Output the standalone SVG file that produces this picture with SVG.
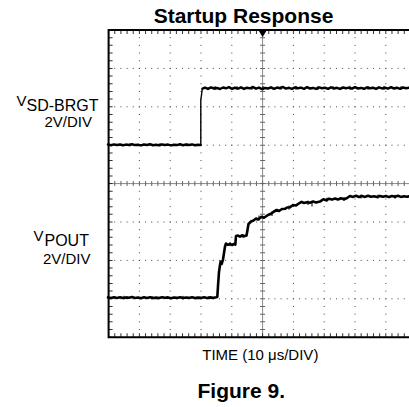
<svg xmlns="http://www.w3.org/2000/svg" width="409" height="407" viewBox="0 0 409 407">
  <style>
    .t { font-family: "Liberation Sans", Arial, sans-serif; fill: #000; }
    .b { font-weight: bold; }
    .dotH { stroke: #444; stroke-width: 1; stroke-dasharray: 1 5.16; fill: none; }
    .dotV { stroke: #444; stroke-width: 1; stroke-dasharray: 1 6.68; fill: none; }
    .axis { stroke: #888; stroke-width: 1; fill: none; }
    .tickH { stroke: #666; stroke-width: 5; stroke-dasharray: 1 5.16; fill: none; }
    .tickV { stroke: #666; stroke-width: 5; stroke-dasharray: 1 6.68; fill: none; }
    .edgeTickH { stroke: #333; stroke-width: 4; stroke-dasharray: 1 5.16; fill: none; }
    .edgeTickV { stroke: #333; stroke-width: 4; stroke-dasharray: 1 6.68; fill: none; }
    .border { stroke: #000; stroke-width: 2; fill: none; }
    .trace { stroke: #000; fill: none; stroke-linejoin: round; stroke-linecap: round; }
    .noise { stroke: #000; stroke-width: 1; fill: none; }
  </style>

  <!-- title -->
  <text class="t b" x="243.5" y="23" font-size="21" text-anchor="middle">Startup Response</text>

  <!-- graticule -->
  <g id="graticule">
    <!-- dotted horizontal division lines -->
    <g class="dotH">
      <line x1="108.1" y1="68.4" x2="409" y2="68.4"/>
      <line x1="108.1" y1="106.8" x2="409" y2="106.8"/>
      <line x1="108.1" y1="145.2" x2="409" y2="145.2"/>
      <line x1="108.1" y1="222" x2="409" y2="222"/>
      <line x1="108.1" y1="260.4" x2="409" y2="260.4"/>
      <line x1="108.1" y1="298.8" x2="409" y2="298.8"/>
    </g>
    <!-- dotted vertical division lines -->
    <g class="dotV">
      <line x1="139.4" y1="29.5" x2="139.4" y2="337"/>
      <line x1="170.2" y1="29.5" x2="170.2" y2="337"/>
      <line x1="201" y1="29.5" x2="201" y2="337"/>
      <line x1="231.8" y1="29.5" x2="231.8" y2="337"/>
      <line x1="293.4" y1="29.5" x2="293.4" y2="337"/>
      <line x1="324.2" y1="29.5" x2="324.2" y2="337"/>
      <line x1="355" y1="29.5" x2="355" y2="337"/>
      <line x1="385.8" y1="29.5" x2="385.8" y2="337"/>
    </g>
    <!-- centre axes with minor ticks -->
    <line class="axis" x1="108.6" y1="183.6" x2="409" y2="183.6"/>
    <line class="axis" x1="262.6" y1="30" x2="262.6" y2="337.2"/>
    <line class="tickH" x1="108.1" y1="183.6" x2="409" y2="183.6"/>
    <line class="tickV" x1="262.6" y1="29.5" x2="262.6" y2="337.2"/>
    <!-- edge ticks -->
    <line class="edgeTickH" x1="108.1" y1="32" x2="409" y2="32"/>
    <line class="edgeTickH" x1="108.1" y1="335.2" x2="409" y2="335.2"/>
    <line class="edgeTickV" x1="110.6" y1="29.5" x2="110.6" y2="337"/>
    <!-- frame -->
    <polyline class="border" points="409,30 108.6,30 108.6,337.2 409,337.2"/>
    <!-- trigger position marker -->
    <polygon points="258.2,30 267,30 262.6,37" fill="#000"/>
  </g>

  <!-- channel labels -->
  <g id="label-sd-brgt">
    <text class="t" x="16.5" y="106" font-size="15">V</text>
    <text class="t" x="26.5" y="111" font-size="16">SD-BRGT</text>
    <text class="t" x="92" y="127" font-size="15" text-anchor="end">2V/DIV</text>
  </g>
  <g id="label-pout">
    <text class="t" x="33.5" y="241" font-size="15">V</text>
    <text class="t" x="44.5" y="246" font-size="16">POUT</text>
    <text class="t" x="90.5" y="264" font-size="15" text-anchor="end">2V/DIV</text>
  </g>

  <!-- waveforms -->
  <g id="traces">
    <!-- SD-BRGT: low level, fast edge, high level -->
    <polyline class="trace" stroke-width="2.5" points="108,144.6 111,145.2 114,144.4 117,145.0 120,144.5 123,145.3 126,144.6 129,144.9 132,144.3 135,145.1 138,144.7 141,145.4 144,144.5 147,145.0 150,144.2 153,145.2 156,144.8 159,145.3 162,144.4 165,145.0 168,144.6 171,145.4 174,144.7 177,145.1 180,144.3 183,145.2 186,144.6 189,145.0 192,144.4 195,145.3 198,144.7 200.6,145.0"/>
    <polyline class="trace" stroke-width="1.4" points="200.8,145 200.8,100 202.3,89"/>
    <polyline class="trace" stroke-width="2.5" points="202.5,88.6 205,87.6 208,88.9 211,87.4 214,88.5 217,87.9 220,89.0 223,87.5 226,88.3 229,87.2 232,88.8 235,87.8 238,88.6 241,87.3 244,88.9 247,87.7 250,88.4 253,87.1 256,88.7 259,87.6 262,89.1 265,87.9 268,88.5 271,87.3 274,88.8 277,87.6 280,88.2 283,87.0 286,88.6 289,87.8 292,88.9 295,87.4 298,88.3 301,87.6 304,88.8 307,87.2 310,88.5 313,87.9 316,88.9 319,87.4 322,88.2 325,87.7 328,88.8 331,87.3 334,88.4 337,87.8 340,88.9 343,87.5 346,88.3 349,87.6 352,88.7 355,87.2 358,88.5 361,87.9 364,88.8 367,87.4 370,88.3 373,87.7 376,88.9 379,87.3 382,88.4 385,87.8 388,88.6 391,87.2 394,88.5 397,87.7 400,88.8 403,87.5 406,88.3 409,87.8"/>
    <!-- short noise spikes on the SD-BRGT trace -->
    <path class="noise" d="M215,86 v4 M237,86.2 v3.6 M252,85.8 v4 M263,86 v4.2 M281,86.3 v3.5 M296,85.9 v4 M318,86.2 v3.8 M333,86 v3.6 M350,85.8 v4.2 M368,86.1 v3.8 M384,85.9 v3.9 M401,86.2 v3.6 M130,143.4 v3 M160,143.2 v3.2 M187,143.4 v3"/>
    <!-- POUT: staged rise toward the regulated level -->
    <polyline id="trace-pout" class="trace" stroke-width="2.6" points="108,297.4 111,298.0 114,297.2 117,297.9 120,297.3 123,298.1 126,297.4 129,297.8 132,297.1 135,298.0 138,297.5 141,298.2 144,297.3 147,297.9 150,297.2 153,298.0 156,297.6 159,298.1 162,297.3 165,297.8 168,297.4 171,298.2 174,297.5 177,297.9 180,297.2 183,298.0 186,297.5 189,297.9 192,297.3 195,298.1 198,297.6 201,297.9 204,297.3 207,298.0 210,297.4 213,297.9 216,297.3 217.3,297.0 218,286 219,272 220,265 220.7,261.5 221.7,264 223,259.5 224,253 225,246.5 226,243.5 228,244.8 230,243.8 232,245.0 234,244.0 235.3,244.6 236,236 238,235.6 240,236.6 242,235.4 244,236.3 246.5,235.6 247.5,230 248.5,224 251,221.5 253.5,220.5 256,218.5 258,219.5 261.5,216.8 264,217.8 268,215 271,213.8 274,211.5 276.7,210 279,211 282,209 285,208.8 287,207.5 290,207.3 293,205 296,205.5 298,204 301.5,201.8 304,203 307,202.2 310,202.8 313,201.5 316,202.4 320,201.6 323.3,199.3 326,200.2 329,198.8 332,199.6 335,198.5 338,199.5 341,198.3 344,199.2 346.7,198.3 350,196 353,196.9 356,195.8 359,197.0 362,196.1 365,196.9 368,195.7 371,196.8 374,196.2 377,197.0 380,195.9 383,196.8 386,196.0 389,197.1 392,196.1 395,196.7 398,195.8 401,196.9 404,196.2 407,196.8 409,196.3"/>
    <!-- short noise spikes on the POUT trace -->
    <path class="noise" d="M124,295.8 v3.6 M152,296 v3.4 M183,295.9 v3.6 M209,296 v3.4 M230,242.2 v4 M243,234 v4 M259,215.5 v5 M272,211.5 v4.5 M289,205.5 v4.2 M308,200.5 v4.5 M312,201 v5.5 M327,197.8 v4 M344,197 v4 M361,194.5 v4 M378,194.6 v4 M395,194.8 v4"/>
  </g>

  <!-- captions -->
  <text class="t" x="260.3" y="359.5" font-size="15" text-anchor="middle">TIME (10 μs/DIV)</text>
  <text class="t b" x="241.3" y="398" font-size="21" text-anchor="middle">Figure 9.</text>
</svg>
